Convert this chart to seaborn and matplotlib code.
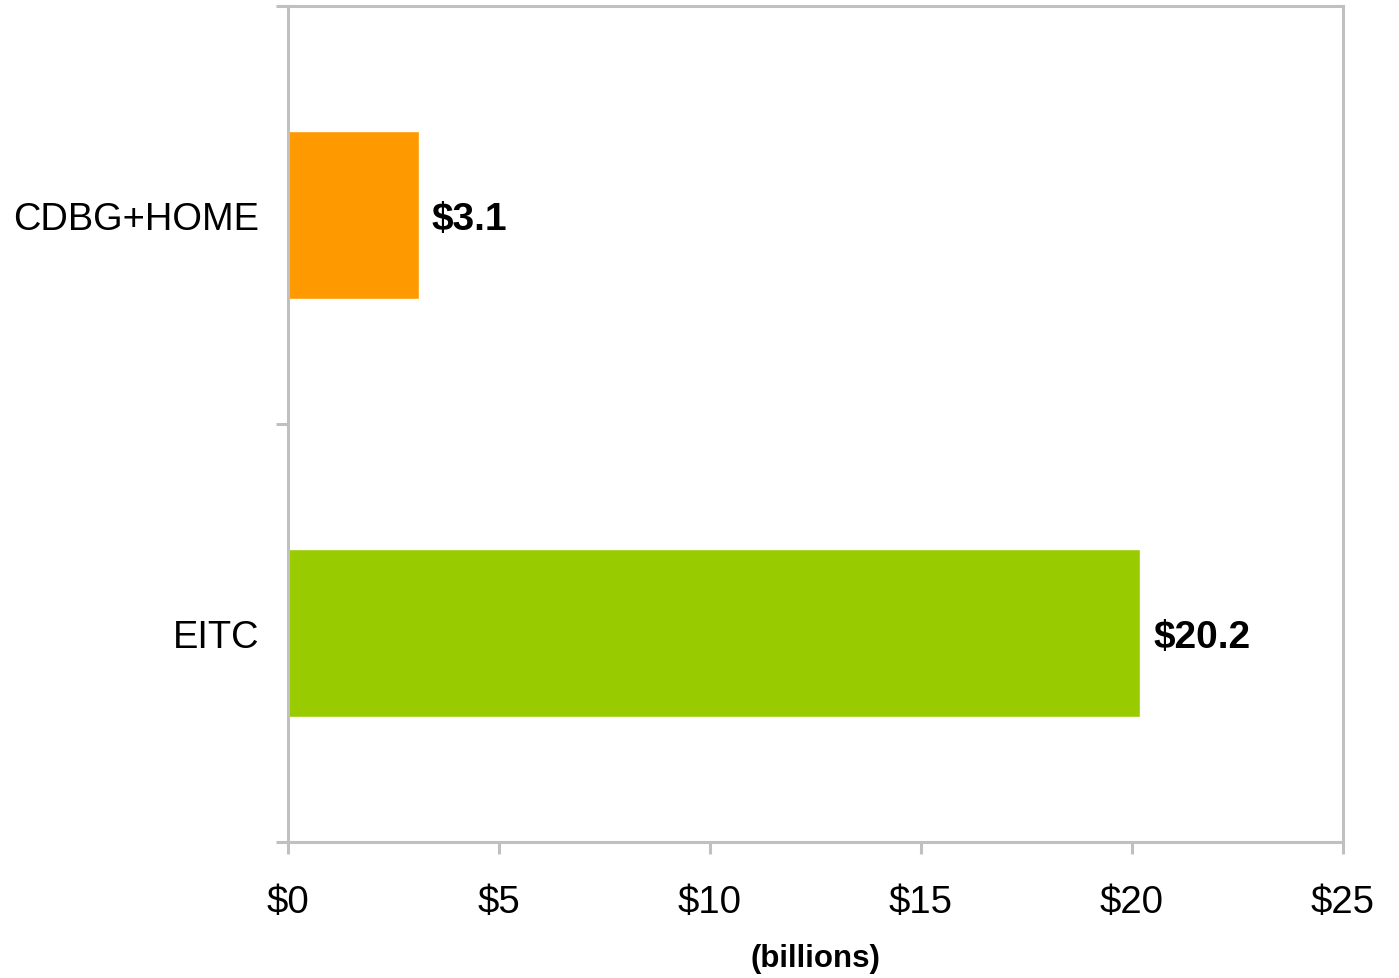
import matplotlib
matplotlib.use("Agg")
import matplotlib.pyplot as plt
import seaborn as sns
import pandas as pd
from matplotlib.ticker import FixedLocator, FuncFormatter

# Program spending, billions of dollars
programs = ["CDBG+HOME", "EITC"]
spending = [3.1, 20.2]
bar_colors = ["#FF9900", "#99CC00"]
x_ticks = [0, 5, 10, 15, 20, 25]

sns.set_theme(style="white")
plt.rcParams["font.family"] = ["Liberation Sans", "DejaVu Sans"]

df = pd.DataFrame({"program": programs, "spending": spending})

fig = plt.figure(figsize=(13.99, 9.79), dpi=100)
ax = fig.add_axes([0.2059, 0.1389, 0.96 - 0.2059, 0.99285 - 0.1389])

sns.barplot(data=df, y="program", x="spending", hue="program",
            palette=bar_colors, orient="h", width=0.4, ax=ax,
            legend=False, saturation=1)

ax.set_xlim(0, 25)
ax.set_ylim(1.5, -0.5)

frame = "#C0C0C0"
for side in ["left", "right", "top", "bottom"]:
    ax.spines[side].set_visible(True)
    ax.spines[side].set_color(frame)
    ax.spines[side].set_linewidth(2.2)

ax.xaxis.set_major_locator(FixedLocator(x_ticks))
ax.xaxis.set_major_formatter(FuncFormatter(lambda v, p: f"${v:.0f}"))
ax.tick_params(axis="x", which="major", length=8.6, width=2.2, color=frame,
               labelsize=27.6, pad=21.5, bottom=True, labelcolor="black")

ax.yaxis.set_minor_locator(FixedLocator([-0.5, 0.5, 1.5]))
ax.tick_params(axis="y", which="minor", length=8.6, width=2.2, color=frame, left=True)
ax.tick_params(axis="y", which="major", length=0, labelsize=27.4, pad=21,
               labelcolor="black")

ax.set_ylabel("")
ax.set_xlabel("(billions)", fontsize=22.5, fontweight="bold", labelpad=17,
              color="black")

for i, v in enumerate(spending):
    ax.text(v + 0.3, i, f"${v:.1f}", va="center_baseline", ha="left",
            fontsize=28, fontweight="bold", color="black")

fig.savefig("out.png", dpi=100, facecolor="white")
